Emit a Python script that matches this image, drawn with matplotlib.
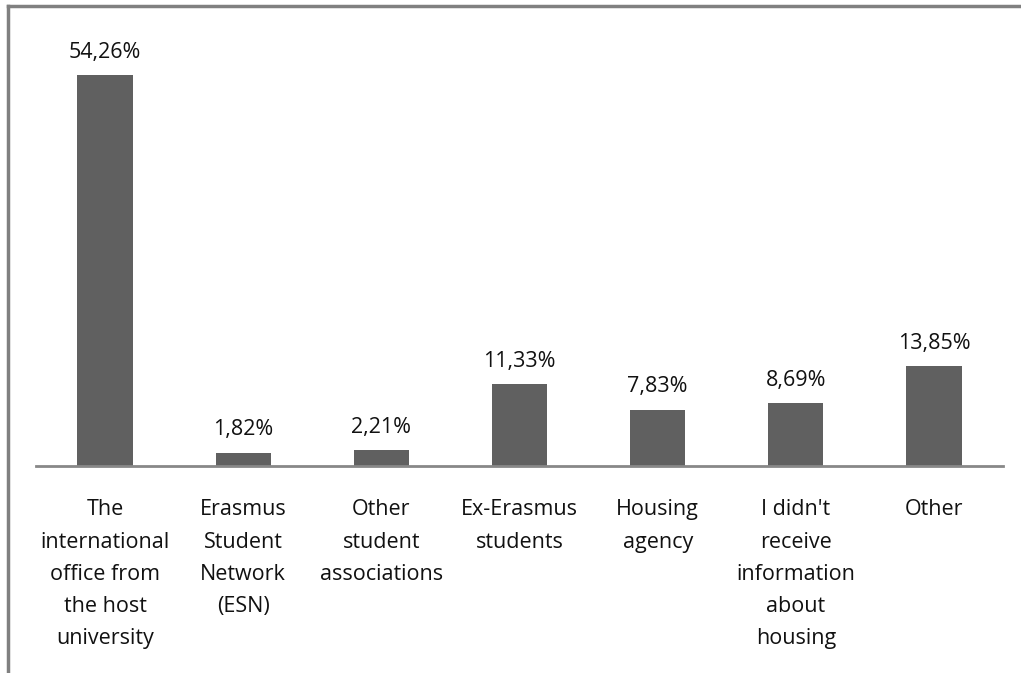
import matplotlib
matplotlib.use("Agg")
import matplotlib.pyplot as plt
from matplotlib.lines import Line2D

categories = [
    "The\ninternational\noffice from\nthe host\nuniversity",
    "Erasmus\nStudent\nNetwork\n(ESN)",
    "Other\nstudent\nassociations",
    "Ex-Erasmus\nstudents",
    "Housing\nagency",
    "I didn't\nreceive\ninformation\nabout\nhousing",
    "Other",
]
values = [54.26, 1.82, 2.21, 11.33, 7.83, 8.69, 13.85]
value_labels = ["54,26%", "1,82%", "2,21%", "11,33%", "7,83%", "8,69%", "13,85%"]

W, H = 1021, 673
fig = plt.figure(figsize=(W / 100, H / 100), dpi=100)
fig.patch.set_facecolor("white")

ax = fig.add_axes([36 / W, 1 - 466 / H, (1003 - 36) / W, (466 - 34) / H])
x = list(range(len(values)))
ax.bar(x, values, width=0.4, color="#606060", zorder=2)
ax.set_xlim(-0.5, len(values) - 0.5)
ax.set_ylim(0, 60)

for s in ("top", "right", "left"):
    ax.spines[s].set_visible(False)
ax.spines["bottom"].set_color("#888888")
ax.spines["bottom"].set_linewidth(2)
ax.set_yticks([])
ax.set_xticks([])

font = "Open Sans"
for xi, v, lab in zip(x, values, value_labels):
    ax.annotate(lab, (xi, v), xytext=(0, 9), textcoords="offset points",
                ha="center", va="bottom", fontsize=15.5, family=font, color="#111111")

for xi, cat in zip(x, categories):
    ax.annotate(cat, (xi, 0), xytext=(0, -24), textcoords="offset points",
                ha="center", va="top", fontsize=15.5, family=font, color="#111111",
                linespacing=1.7)

# outer frame (left and top edges)
fig.add_artist(Line2D([8 / W, 8 / W], [0, 1 - 6 / H], transform=fig.transFigure,
                      color="#808080", linewidth=2.5))
fig.add_artist(Line2D([8 / W, 1], [1 - 6 / H, 1 - 6 / H], transform=fig.transFigure,
                      color="#808080", linewidth=2.5))

fig.savefig("out.png", dpi=100)
